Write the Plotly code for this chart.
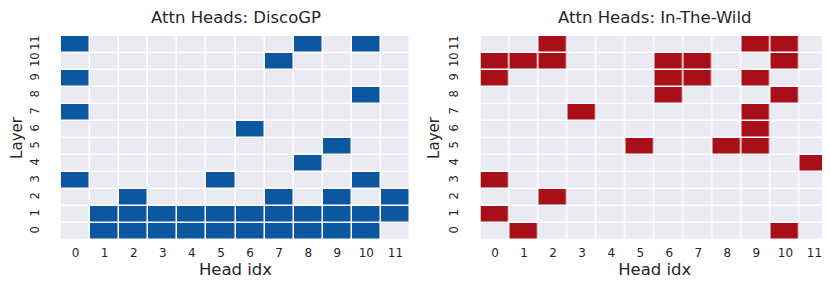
import plotly.graph_objects as go

heads = list(range(12))
layers = list(range(12))
head_labels = [str(h) for h in heads]
layer_labels = [str(l) for l in layers]

# active heads per layer (index = layer)
discogp_active = [
    [1, 2, 3, 4, 5, 6, 7, 8, 9, 10],
    [1, 2, 3, 4, 5, 6, 7, 8, 9, 10, 11],
    [2, 7, 9, 11],
    [0, 5, 10],
    [8],
    [9],
    [6],
    [0],
    [10],
    [0],
    [7],
    [0, 8, 10],
]
wild_active = [
    [1, 10],
    [0],
    [2],
    [0],
    [11],
    [5, 8, 9],
    [9],
    [3, 9],
    [6, 10],
    [0, 6, 7, 9],
    [0, 1, 2, 6, 7, 10],
    [2, 9, 10],
]

titles = ["Attn Heads: DiscoGP", "Attn Heads: In-The-Wild"]
colors = ["#0D56A0", "#A90F18"]
empty_color = "#EAEAF2"
text_color = "#262626"
font_family = "DejaVu Sans"


def to_matrix(active):
    return [[1 if h in active[l] else 0 for h in heads] for l in layers]


fig = go.Figure()
W, H = 830, 285
x_domains = [[53 / W, 402 / W], [472.5 / W, 821 / W]]
y_domain = [1 - 232 / H, 1 - 28 / H]

for i, (active, color, title) in enumerate(zip([discogp_active, wild_active], colors, titles)):
    xa = "x" if i == 0 else "x2"
    ya = "y" if i == 0 else "y2"
    fig.add_trace(go.Heatmap(
        z=to_matrix(active), x=heads, y=layers,
        colorscale=[[0, empty_color], [1, color]], zmin=0, zmax=1,
        showscale=False, xgap=1.5, ygap=1.5, xaxis=xa, yaxis=ya,
        hoverinfo="skip",
    ))
    axsuffix = "" if i == 0 else "2"
    fig.layout["xaxis" + axsuffix] = dict(
        domain=x_domains[i], anchor=ya, range=[-0.5, 11.5],
        tickmode="array", tickvals=heads, ticktext=head_labels,
        showgrid=False, zeroline=False, ticks="", showline=False,
        ticklabelstandoff=4,
        tickfont=dict(size=12, color=text_color, family=font_family),
        title=dict(text="Head idx", font=dict(size=16.5, color=text_color, family=font_family), standoff=1),
    )
    fig.layout["yaxis" + axsuffix] = dict(
        domain=y_domain, anchor=xa, range=[-0.5, 11.5],
        tickmode="array", tickvals=layers, ticktext=layer_labels,
        tickangle=-90, ticklabelstandoff=19,
        showgrid=False, zeroline=False, ticks="", showline=False,
        tickfont=dict(size=11.5, color=text_color, family=font_family),
        title=dict(text="Layer", font=dict(size=15, color=text_color, family=font_family), standoff=3),
    )
    fig.add_annotation(
        text=title, xref="paper", yref="paper",
        x=(x_domains[i][0] + x_domains[i][1]) / 2, y=1 - 9.5 / H,
        showarrow=False, xanchor="center", yanchor="middle",
        font=dict(size=16.5, color=text_color, family=font_family),
    )

fig.update_layout(
    width=W, height=H,
    margin=dict(l=0, r=0, t=0, b=0),
    plot_bgcolor="white", paper_bgcolor="white",
    showlegend=False,
)

fig.write_html("out.html")
